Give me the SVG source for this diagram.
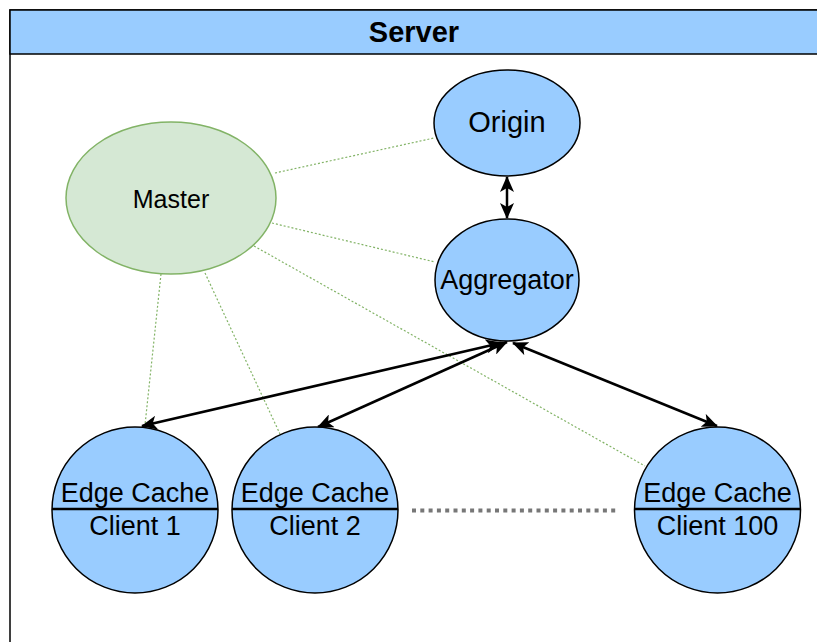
<svg xmlns="http://www.w3.org/2000/svg" width="817" height="642" viewBox="0 0 817 642">
  <defs>
    <style>
      text { font-family: "Liberation Sans", Arial, Helvetica, sans-serif; fill: #000; text-anchor: middle; }
      .blue { fill: #99CCFF; stroke: #000; stroke-width: 1.5; }
      .green { fill: #D5E8D4; stroke: #82B366; stroke-width: 1.5; }
      .link { stroke: #000; stroke-width: 2.5; fill: none; marker-start: url(#arrow); marker-end: url(#arrow); }
      .ctrl { stroke: #82B366; stroke-width: 1.2; stroke-dasharray: 2 2; fill: none; }
      .divider { stroke: #000; stroke-width: 2.5; }
    </style>
    <marker id="arrow" viewBox="0 0 16 14" refX="15" refY="7" markerWidth="16" markerHeight="14" markerUnits="userSpaceOnUse" orient="auto-start-reverse">
      <path d="M0,0 L16,7 L0,14 L4,7 Z" fill="#000"/>
    </marker>
  </defs>

  <!-- Server swimlane container -->
  <g id="server">
    <rect x="10" y="10" width="820" height="650" fill="#fff" stroke="#000" stroke-width="1.5"/>
    <rect x="10" y="10" width="820" height="44" fill="#99CCFF" stroke="#000" stroke-width="1.5"/>
    <text x="414" y="42" font-size="29" font-weight="bold">Server</text>
  </g>

  <!-- Connectors -->
  <g id="connectors">
    <line class="ctrl" x1="275" y1="173" x2="434" y2="138"/>
    <line class="ctrl" x1="272" y1="223" x2="435" y2="262"/>
    <line class="ctrl" x1="254" y1="246" x2="645" y2="466"/>
    <line class="ctrl" x1="161" y1="274" x2="145" y2="425"/>
    <line class="ctrl" x1="205" y1="273" x2="280" y2="434"/>

    <line class="link" x1="507" y1="177" x2="507" y2="218" stroke-width="3"/>
    <line class="link" x1="501" y1="343" x2="142" y2="426"/>
    <line class="link" x1="507" y1="342" x2="318" y2="427"/>
    <line class="link" x1="513" y1="343" x2="717" y2="426"/>

    <line x1="412" y1="510.5" x2="618" y2="510.5" stroke="#777" stroke-width="4" stroke-dasharray="4 4.3"/>
  </g>

  <g id="master">
    <ellipse class="green" cx="171" cy="198" rx="105" ry="76"/>
    <text x="171" y="208" font-size="25">Master</text>
  </g>

  <g id="origin">
    <ellipse class="blue" cx="507" cy="123" rx="73" ry="53"/>
    <text x="507" y="132" font-size="29">Origin</text>
  </g>

  <g id="aggregator">
    <ellipse class="blue" cx="507" cy="280" rx="72" ry="61"/>
    <text x="507" y="289" font-size="27">Aggregator</text>
  </g>

  <g id="client1">
    <circle class="blue" cx="135" cy="510" r="83"/>
    <line class="divider" x1="52" y1="509" x2="218" y2="509"/>
    <text x="135" y="502" font-size="27">Edge Cache</text>
    <text x="135" y="535" font-size="27">Client 1</text>
  </g>

  <g id="client2">
    <circle class="blue" cx="315" cy="510" r="83"/>
    <line class="divider" x1="232" y1="509" x2="398" y2="509"/>
    <text x="315" y="502" font-size="27">Edge Cache</text>
    <text x="315" y="535" font-size="27">Client 2</text>
  </g>

  <g id="client100">
    <circle class="blue" cx="717.5" cy="510" r="83"/>
    <line class="divider" x1="634.5" y1="509" x2="800.5" y2="509"/>
    <text x="717.5" y="502" font-size="27">Edge Cache</text>
    <text x="717.5" y="535" font-size="27">Client 100</text>
  </g>
</svg>
